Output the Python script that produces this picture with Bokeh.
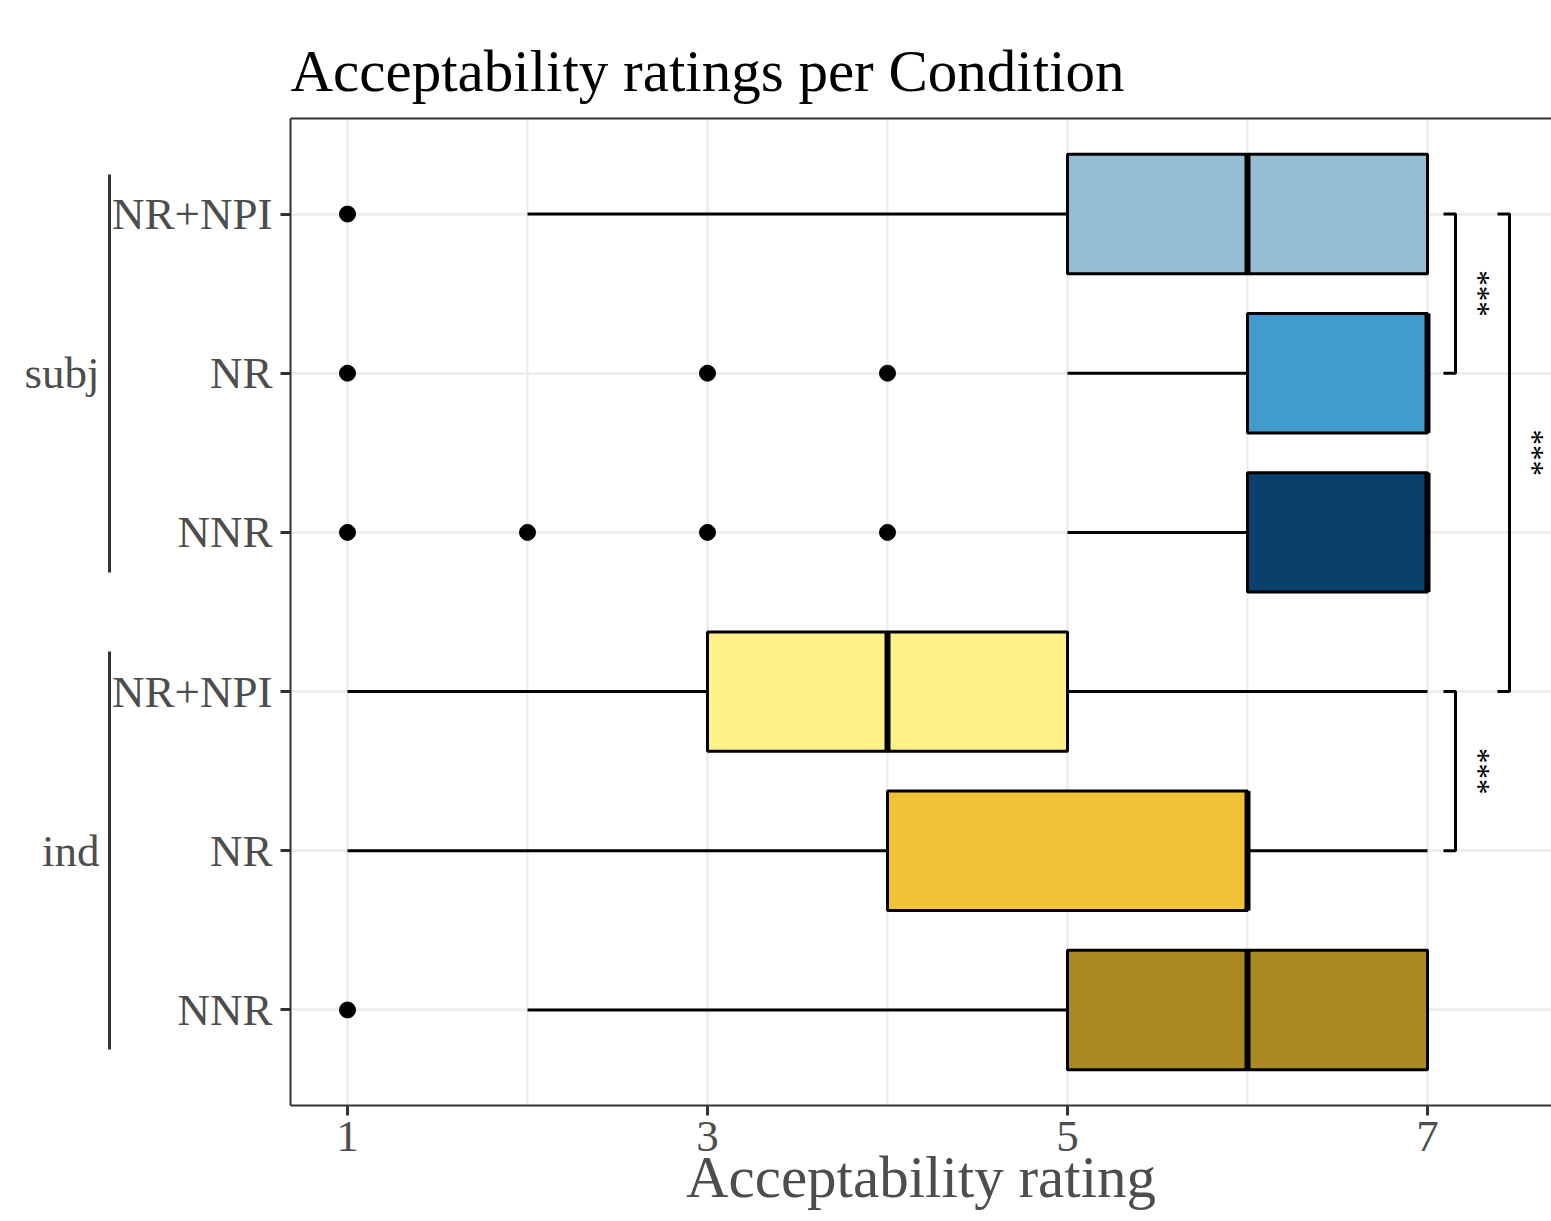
import numpy as np
from bokeh.plotting import figure
from bokeh.models import FixedTicker, Range1d, LinearAxis, ColumnDataSource
from bokeh.core.properties import value
from bokeh.embed import file_html
from bokeh.resources import INLINE

# ---------------- data ----------------
groups = ["subj", "subj", "subj", "ind", "ind", "ind"]
conditions = ["NR+NPI", "NR", "NNR", "NR+NPI", "NR", "NNR"]
ypos = [6, 5, 4, 3, 2, 1]
lower_whisker = [2, 5, 5, 1, 1, 2]
q1 = [5, 6, 6, 3, 4, 5]
median = [6, 7, 7, 4, 6, 6]
q3 = [7, 7, 7, 5, 6, 7]
upper_whisker = [7, 7, 7, 7, 7, 7]
fill_colors = ["#96BED2", "#419BCE", "#0B406D", "#FFF186", "#F0C336", "#AB8923"]

outlier_index = [0, 1, 1, 1, 2, 2, 2, 2, 5]
outlier_values = [1, 1, 3, 4, 1, 2, 3, 4, 1]

x_ticks = [1, 3, 5, 7]
x_minor_ticks = [2, 4, 6]

comparisons = [(0, 1), (0, 3), (3, 4)]
comparison_levels = [0, 1, 0]
comparison_labels = ["***", "***", "***"]

group_names = ["subj", "ind"]

# ---------------- layout constants ----------------
FONT = "Liberation Serif"
GREY = "#4D4D4D"
DARK = "#333333"
FIG_W, FIG_H = 1551, 1219
LEFT, TOP, BOTTOM = 290, 118, 114
FRAME_W = FIG_W - LEFT
X_START, X_END = 0.6833, 0.6833 + FRAME_W / 180.0
px_per_unit = FRAME_W / (X_END - X_START)
BOX_H = 0.75

p = figure(
    output_backend="svg", toolbar_location=None,
    width=FIG_W, height=FIG_H,
    min_border_left=LEFT, min_border_right=0, min_border_top=TOP, min_border_bottom=BOTTOM,
    x_range=Range1d(X_START, X_END), y_range=Range1d(0.4, 6.6),
    title="Acceptability ratings per Condition",
)
p.background_fill_color = "white"
p.border_fill_color = "white"
p.outline_line_color = None

p.title.text_font = FONT
p.title.text_font_size = "59px"
p.title.text_font_style = "normal"
p.title.text_color = "black"
p.title.align = "left"
p.title.offset = 0
p.title.standoff = 29

# grids
p.xgrid.ticker = FixedTicker(ticks=x_ticks, minor_ticks=x_minor_ticks)
p.xgrid.grid_line_color = "#EBEBEB"
p.xgrid.grid_line_width = 2.5
p.xgrid.minor_grid_line_color = "#EBEBEB"
p.xgrid.minor_grid_line_width = 2
p.ygrid.ticker = FixedTicker(ticks=ypos)
p.ygrid.grid_line_color = "#EBEBEB"
p.ygrid.grid_line_width = 2.5

# axes (axis lines form the panel border on left / bottom)
xa = p.xaxis[0]
xa.ticker = FixedTicker(ticks=x_ticks, minor_ticks=x_minor_ticks)
xa.axis_label = "Acceptability rating"
ya = p.yaxis[0]
ya.ticker = FixedTicker(ticks=ypos)
ya.major_label_overrides = {y: c for y, c in zip(ypos, conditions)}
for ax in (xa, ya):
    ax.axis_line_color = DARK
    ax.axis_line_width = 2
    ax.major_tick_in = 0
    ax.major_tick_out = 10
    ax.major_tick_line_width = 3
    ax.major_tick_line_color = DARK
    ax.minor_tick_line_color = None
    ax.major_label_text_font = FONT
    ax.major_label_text_font_size = "45px"
    ax.major_label_text_color = GREY
    ax.axis_label_text_font = FONT
    ax.axis_label_text_font_style = "normal"
    ax.axis_label_text_color = GREY
xa.axis_label_text_font_size = "59px"
xa.major_label_standoff = 6
xa.axis_label_standoff = -10
ya.major_label_standoff = 8

# top border of the panel
top_ax = LinearAxis(ticker=FixedTicker(ticks=[]))
top_ax.axis_line_color = DARK
top_ax.axis_line_width = 2
top_ax.major_tick_line_color = None
top_ax.minor_tick_line_color = None
top_ax.major_tick_out = 0
top_ax.major_tick_in = 0
top_ax.major_label_standoff = 0
top_ax.major_label_text_font_size = "0px"
p.add_layout(top_ax, "above")

# group brackets on the left: one bounded axis line per group, then a label axis
group_mid = {}
for g in group_names:
    ys = [y for y, gg in zip(ypos, groups) if gg == g]
    group_mid[g] = (min(ys) + max(ys)) / 2
    line_ax = LinearAxis(ticker=FixedTicker(ticks=[]))
    line_ax.bounds = (min(ys) - 0.25, max(ys) + 0.25)
    line_ax.axis_line_color = DARK
    line_ax.axis_line_width = 3
    line_ax.major_tick_line_color = None
    line_ax.minor_tick_line_color = None
    line_ax.major_tick_out = 0
    line_ax.major_tick_in = 0
    line_ax.major_label_standoff = 0
    line_ax.major_label_text_font_size = "0px"
    p.add_layout(line_ax, "left")

label_ax = LinearAxis(ticker=FixedTicker(ticks=[group_mid[g] for g in group_names]))
label_ax.major_label_overrides = {group_mid[g]: g for g in group_names}
label_ax.axis_line_color = None
label_ax.major_tick_line_color = None
label_ax.minor_tick_line_color = None
label_ax.major_tick_out = 0
label_ax.major_tick_in = 0
label_ax.major_label_standoff = 10
label_ax.major_label_text_font = FONT
label_ax.major_label_text_font_size = "45px"
label_ax.major_label_text_color = GREY
p.add_layout(label_ax, "left")

# ---------------- boxes ----------------
src = ColumnDataSource(dict(y=ypos, q1=q1, q3=q3, med=median, lw=lower_whisker,
                            uw=upper_whisker, color=fill_colors,
                            y0=[y - BOX_H / 2 for y in ypos], y1=[y + BOX_H / 2 for y in ypos]))
p.segment(x0="lw", x1="q1", y0="y", y1="y", source=src, line_color="black", line_width=3)
p.segment(x0="q3", x1="uw", y0="y", y1="y", source=src, line_color="black", line_width=3)
p.hbar(y="y", left="q1", right="q3", height=BOX_H, source=src, fill_color="color",
       line_color="black", line_width=3)
p.segment(x0="med", x1="med", y0="y0", y1="y1", source=src, line_color="black", line_width=6)

p.scatter(x=outlier_values, y=[ypos[i] for i in outlier_index], size=16,
          fill_color="black", line_color="black")

# ---------------- significance brackets ----------------
bx, by, tx, ty = [], [], [], []
for (a, b), lvl in zip(comparisons, comparison_levels):
    xv = 7 + (28 + 54 * lvl) / px_per_unit
    xl = xv - 12 / px_per_unit
    bx.append([xl, xv, xv, xl])
    by.append([ypos[a], ypos[a], ypos[b], ypos[b]])
    tx.append(xv + 40 / px_per_unit)
    ty.append((ypos[a] + ypos[b]) / 2)
p.multi_line(xs=bx, ys=by, line_color="black", line_width=3)
p.text(x=tx, y=ty, text=comparison_labels, angle=-np.pi / 2, text_align="center",
       text_baseline="top", text_font=value(FONT), text_font_size="31px",
       text_color="black")

open("out.html", "w").write(file_html(p, INLINE))
